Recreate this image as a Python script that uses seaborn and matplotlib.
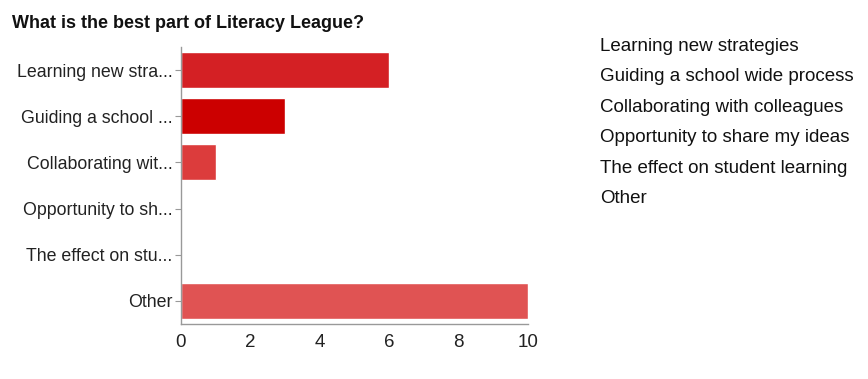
import numpy as np
import pandas as pd
import matplotlib
matplotlib.use('Agg')
import matplotlib.pyplot as plt
import seaborn as sns

categories = ['Learning new strategies', 'Guiding a school wide process',
              'Collaborating with colleagues', 'Opportunity to share my ideas',
              'The effect on student learning', 'Other']
tick_labels = ['Learning new stra...', 'Guiding a school ...', 'Collaborating wit...',
               'Opportunity to sh...', 'The effect on stu...', 'Other']
counts = [6, 3, 1, 0, 0, 10]
bar_colors = ['#d42024', '#cc0000', '#dc3c3c', '#dc3c3c', '#dc3c3c', '#e05353']

sns.set_style('white')
plt.rcParams['font.family'] = ['Liberation Sans', 'DejaVu Sans']

df = pd.DataFrame({'category': categories, 'count': counts})

fig = plt.figure(figsize=(8.68, 3.79), dpi=100)
ax = fig.add_axes([0.2085, 0.145, 0.3998, 0.731])

sns.barplot(data=df, x='count', y='category', hue='category', palette=bar_colors,
            legend=False, width=0.78, saturation=1, ax=ax)

ax.set_xlim(0, 10)
ax.set_ylim(5.5, -0.5)
ax.set_xticks(np.arange(0, 11, 2))
ax.set_yticks(range(len(tick_labels)))
ax.set_yticklabels(tick_labels, fontsize=12.8, color='#222222')
ax.tick_params(axis='x', labelsize=13.5, colors='#222222', length=4, color='#999999', pad=3)
ax.tick_params(axis='y', length=4, color='#999999', pad=2, left=True)
ax.set_xlabel('')
ax.set_ylabel('')
for side in ['top', 'right']:
    ax.spines[side].set_visible(False)
for side in ['left', 'bottom']:
    ax.spines[side].set_color('#999999')
    ax.spines[side].set_linewidth(1)

fig.text(12 / 868, 1 - 23 / 379, 'What is the best part of Literacy League?',
         fontsize=13, fontweight='bold', ha='left', va='center', color='#111111')

# legend text on the right, no swatches
for i, name in enumerate(categories):
    fig.text(600 / 868, 1 - (51 + 30.4 * i) / 379, name, fontsize=13.5,
             ha='left', va='baseline', color='#111111')

fig.savefig('out.png', dpi=100)
